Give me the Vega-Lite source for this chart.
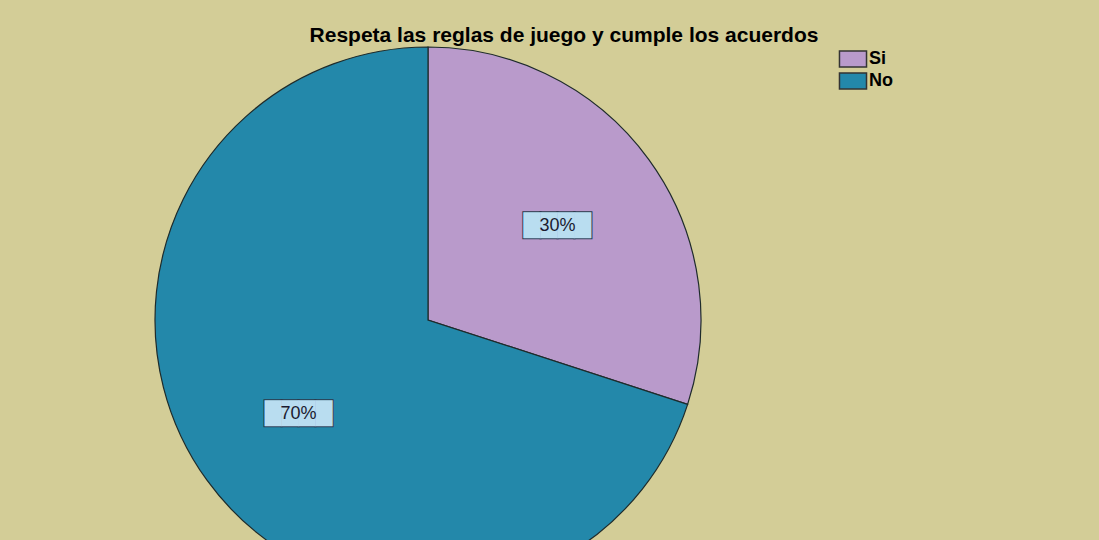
{
  "$schema": "https://vega.github.io/schema/vega-lite/v6.json",
  "background": "#D3CD97",
  "padding": {"left": 8, "top": 13, "right": 207, "bottom": 0},
  "width": 840,
  "height": 614,
  "title": {
    "text": "Respeta las reglas de juego y cumple los acuerdos",
    "anchor": "middle",
    "frame": "group",
    "offset": -33,
    "dx": 136,
    "font": "Liberation Sans",
    "fontSize": 21,
    "fontWeight": "bold",
    "color": "#000000"
  },
  "data": {"values": [
    {"respuesta": "Si", "proporcion": 0.30},
    {"respuesta": "No", "proporcion": 0.70}
  ]},
  "layer": [
    {
      "mark": {"type": "arc", "outerRadius": 273, "stroke": "#1e2b2b", "strokeWidth": 1.2},
      "encoding": {
        "theta": {"field": "proporcion", "type": "quantitative", "stack": true},
        "color": {
          "field": "respuesta",
          "type": "nominal",
          "scale": {"domain": ["Si", "No"], "range": ["#B99ACB", "#2388AA"]},
          "legend": {
            "title": null,
            "orient": "none",
            "direction": "vertical",
            "legendX": 836,
            "legendY": 37,
            "symbolType": "M-1.69,-1H1.69V1H-1.69Z",
            "symbolSize": 256,
            "symbolStrokeColor": "#333333",
            "symbolStrokeWidth": 1.5,
            "symbolOpacity": 1,
            "labelFont": "Liberation Sans",
            "labelFontSize": 18,
            "labelFontWeight": "bold",
            "labelColor": "#000000",
            "labelOffset": 7,
            "rowPadding": 0
          }
        },
        "order": {"field": "respuesta", "sort": "descending"}
      }
    },
    {
      "mark": {"type": "text", "text": "████", "font": "DejaVu Sans", "fontSize": 22, "fill": "#B9DDF0", "stroke": "#2B3A4C", "strokeWidth": 2, "radius": 160},
      "encoding": {
        "theta": {"field": "proporcion", "type": "quantitative", "stack": true},
        "detail": {"field": "respuesta"},
        "order": {"field": "respuesta", "sort": "descending"}
      }
    },
    {
      "mark": {"type": "text", "text": "████", "font": "DejaVu Sans", "fontSize": 22, "fill": "#B9DDF0", "radius": 160},
      "encoding": {
        "theta": {"field": "proporcion", "type": "quantitative", "stack": true},
        "detail": {"field": "respuesta"},
        "order": {"field": "respuesta", "sort": "descending"}
      }
    },
    {
      "mark": {"type": "text", "font": "Liberation Sans", "fontSize": 18, "fill": "#1b1b2f", "radius": 160},
      "encoding": {
        "theta": {"field": "proporcion", "type": "quantitative", "stack": true},
        "detail": {"field": "respuesta"},
        "order": {"field": "respuesta", "sort": "descending"},
        "text": {"field": "proporcion", "type": "quantitative", "format": ".0%"}
      }
    }
  ],
  "config": {
    "view": {"stroke": null}
  }
}
